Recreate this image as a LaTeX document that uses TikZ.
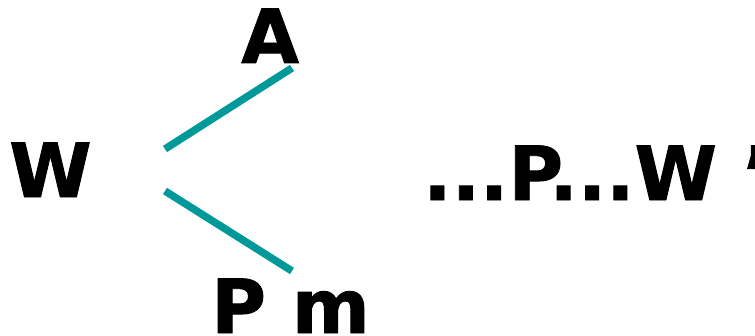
\documentclass[tikz,border=0pt]{standalone}
\usepackage{fontspec}
\setmainfont{DejaVu Sans}[BoldFeatures={FakeBold=1.2}]
\usepackage{tikz}
\usetikzlibrary{positioning}

\definecolor{teal}{RGB}{0,153,153}

\begin{document}
\begin{tikzpicture}[x=0.75pt, y=-0.75pt,
        word/.style={inner sep=0pt, anchor=base west, font=\fontsize{56}{60}\selectfont\bfseries},
        branch/.style={draw=teal, line width=5.6pt}]
        \useasboundingbox (0,0) rectangle (755,335);
        \node[word] (W) at (9,197) {W};
        \node[word] (A) at (241,63) {A};
        \node[word] (Pm) at (211,333) {P m};
        \node[word] (PW) at (423,200) {...P...W ’};
        \coordinate (fork up) at (165,149);
        \coordinate (fork down) at (165,191);
        \coordinate (A end) at (292,68);
        \coordinate (Pm end) at (292,271);
        \draw[branch] (fork up) -- (A end);
        \draw[branch] (fork down) -- (Pm end);
    \end{tikzpicture}
\end{document}
